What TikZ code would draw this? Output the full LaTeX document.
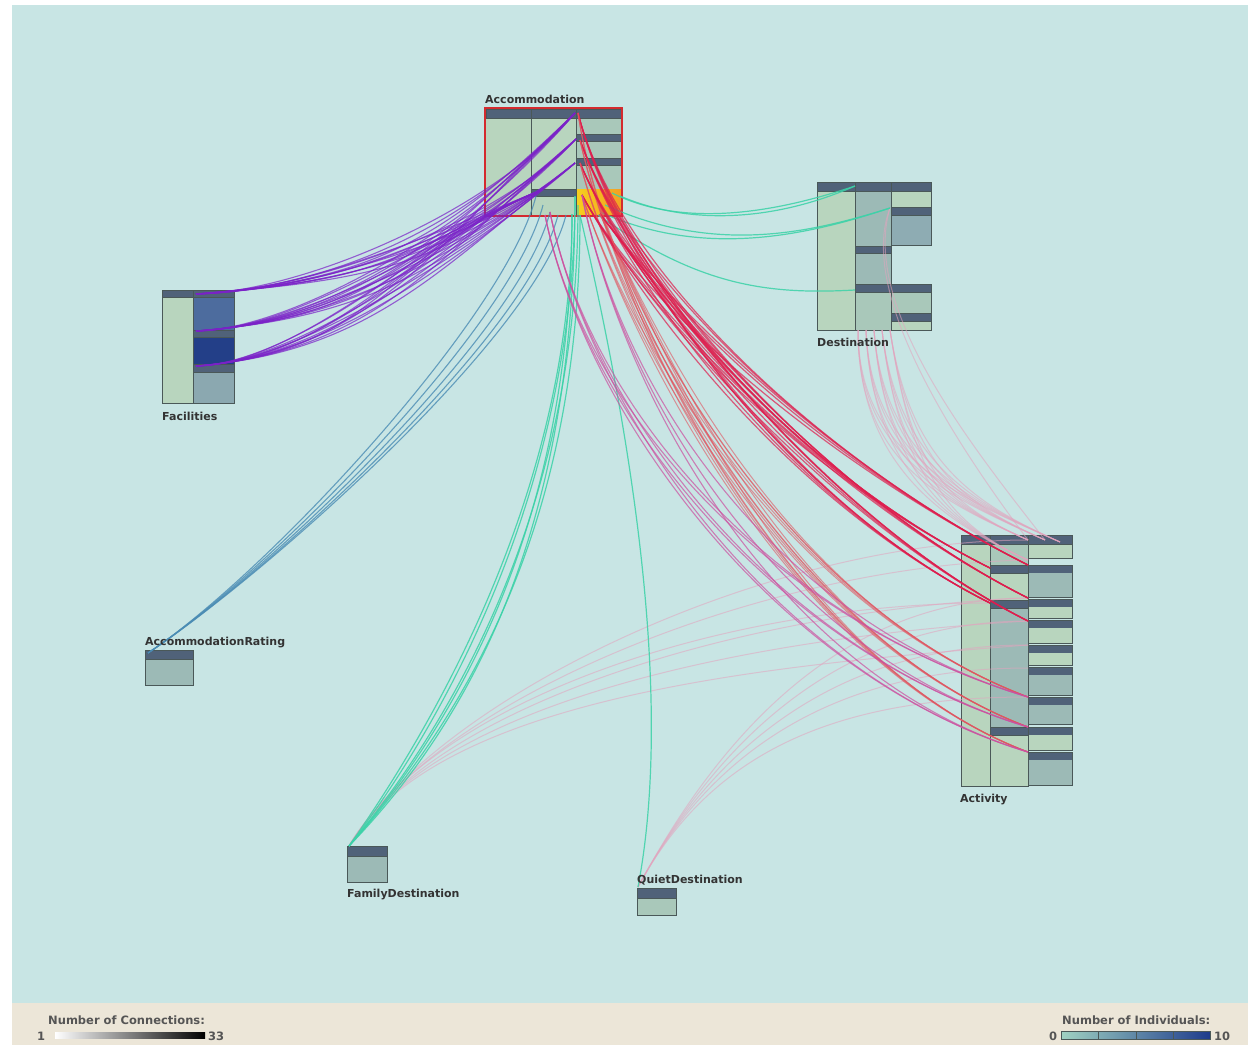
\documentclass[tikz,border=0pt]{standalone}
\usepackage{fontspec}
\setmainfont{DejaVu Sans}
\definecolor{bgc}{HTML}{C8E5E4}
\definecolor{barc}{HTML}{ECE6D8}
\definecolor{lg}{HTML}{B8D5BE}
\definecolor{lg2}{HTML}{A9C8BA}
\definecolor{tg}{HTML}{9CBAB6}
\definecolor{dt}{HTML}{8EACB3}
\definecolor{hdrc}{HTML}{506279}
\definecolor{linec}{HTML}{4A5858}
\definecolor{accred}{HTML}{D42A2E}
\definecolor{fb1}{HTML}{4D6C9E}
\definecolor{fb2}{HTML}{233F88}
\definecolor{fb3}{HTML}{8BA8B0}
\definecolor{yel}{HTML}{F6CF1E}
\definecolor{ora}{HTML}{F2A024}
\definecolor{purp}{HTML}{7B22C8}
\definecolor{bluec}{HTML}{4A8CB4}
\definecolor{grn}{HTML}{3CD2A8}
\definecolor{crim}{HTML}{DE1E4E}
\definecolor{pnk}{HTML}{CC50A0}
\definecolor{orr}{HTML}{E05560}
\definecolor{fpk}{HTML}{E2A4BE}
\definecolor{txt}{HTML}{333333}
\definecolor{ltxt}{HTML}{555555}
\definecolor{sca}{HTML}{A0D2C2}
\definecolor{scb}{HTML}{1E3C8C}
\begin{document}
\begin{tikzpicture}[x=1pt,y=-1pt,
  cbox/.style={rectangle,draw=linec,line width=0.8pt,inner sep=0pt,outer sep=0pt},
  hbox/.style={rectangle,draw=none,inner sep=0pt,outer sep=0pt},
  hdr/.style={fill=hdrc,draw=linec,line width=0.5pt},
  cell/.style={draw=linec,line width=0.6pt},
  lbl/.style={font=\bfseries\fontsize{11}{13}\selectfont,text=txt,anchor=base west,inner sep=0pt},
  leg/.style={font=\bfseries\fontsize{11.5}{13}\selectfont,text=ltxt,anchor=base west,inner sep=0pt},
  purpl/.style={draw=purp,line width=1.1pt,opacity=0.7},
  bluel/.style={draw=bluec,line width=1.1pt,opacity=0.8},
  grnl/.style={draw=grn,line width=1.2pt,opacity=0.85},
  criml/.style={draw=crim,line width=1.2pt,opacity=0.7},
  pnkl/.style={draw=pnk,line width=1.1pt,opacity=0.7},
  orrl/.style={draw=orr,line width=1.0pt,opacity=0.6},
  faintl/.style={draw=fpk,line width=1.0pt,opacity=0.55}]
\useasboundingbox (0,0) rectangle (1250,1047);
\fill[white] (0,0) rectangle (1250,1047);
\fill[bgc] (12,5) rectangle (1248,1003);
\fill[barc] (12,1003) rectangle (1248,1045);

% ---------- Accommodation ----------
\fill[lg] (486,109) rectangle (621,215);
\fill[lg2] (576,118) rectangle (621,189);
\fill[hdr] (486,109) rectangle (621,118);
\fill[hdr] (576,134) rectangle (621,141);
\fill[hdr] (576,158) rectangle (621,165);
\fill[hdr] (531,189) rectangle (576,196);
\shade[left color=yel,right color=ora] (576,189) rectangle (621,215);
\draw[cell] (531,109) -- (531,215) (576,109) -- (576,215);
\node[cbox,draw=accred,line width=2pt,minimum width=137pt,minimum height=108pt] (acc) at (553.5,162) {};

% ---------- Destination ----------
\node[hbox,minimum width=114pt,minimum height=148pt] (dest) at (874,256) {};
\fill[lg] (817,182) rectangle (855,330);
\fill[tg] (855,182) rectangle (891,292);
\fill[lg2] (855,292) rectangle (891,330);
\fill[lg] (891,191) rectangle (931,207);
\fill[dt] (891,207) rectangle (931,245);
\fill[lg2] (891,284) rectangle (931,313);
\fill[lg] (891,313) rectangle (931,330);
\fill[hdr] (817,182) rectangle (931,191);
\fill[hdr] (891,207) rectangle (931,215);
\fill[hdr] (855,246) rectangle (891,253);
\fill[hdr] (855,284) rectangle (931,292);
\fill[hdr] (891,313) rectangle (931,321);
\draw[cell] (855,182) -- (855,330) (891,182) -- (891,330);
\draw[linec,line width=0.8pt] (817,182) -- (931,182) -- (931,245) -- (891,245) -- (891,284) -- (931,284) -- (931,330) -- (817,330) -- cycle;

% ---------- Facilities ----------
\fill[lg] (162,290) rectangle (193,403);
\fill[fb1] (193,297) rectangle (234,330);
\fill[fb2] (193,337) rectangle (234,364);
\fill[fb3] (193,372) rectangle (234,403);
\fill[hdr] (162,290) rectangle (234,297);
\fill[hdr] (193,330) rectangle (234,337);
\fill[hdr] (193,364) rectangle (234,372);
\draw[cell] (193,290) -- (193,403);
\node[cbox,minimum width=72pt,minimum height=113pt] (fac) at (198,346.5) {};

% ---------- Activity ----------
\node[hbox,minimum width=111pt,minimum height=251pt] (act) at (1016.5,660.5) {};
\fill[lg] (961,535) rectangle (990,786);
\fill[lg2] (990,544) rectangle (1028,565);
\fill[lg] (990,573) rectangle (1028,600);
\fill[tg] (990,608) rectangle (1028,727);
\fill[lg] (990,735) rectangle (1028,786);
\fill[hdr] (990,565) rectangle (1028,573);
\fill[hdr] (990,600) rectangle (1028,608);
\fill[hdr] (990,727) rectangle (1028,735);
\fill[lg] (1028,544) rectangle (1072,558);
\draw[cell] (1028,535) rectangle (1072,558);
\foreach \t/\b/\c in {565/597/tg,599/618/lg,620/643/lg,645/665/lg,667/695/tg,697/724/tg,727/750/lg,752/785/tg}{
  \fill[\c] (1028,\t) rectangle (1072,\b);
  \fill[hdrc] (1028,\t) rectangle (1072,{\t+8});
  \draw[cell] (1028,\t) rectangle (1072,\b);
}
\fill[hdr] (961,535) rectangle (1072,544);
\draw[cell] (990,535) -- (990,786);
\draw[linec,line width=0.8pt] (961,535) rectangle (1028,786);
\draw[linec,line width=0.8pt] (1028,535) rectangle (1072,558);

% ---------- small classes ----------
\fill[tg] (145,650) rectangle (193,685);
\fill[hdr] (145,650) rectangle (193,659);
\node[cbox,minimum width=48pt,minimum height=35pt] (rat) at (169,667.5) {};
\fill[tg] (347,846) rectangle (387,882);
\fill[hdr] (347,846) rectangle (387,856);
\node[cbox,minimum width=40pt,minimum height=36pt] (fam) at (367,864) {};
\fill[lg2] (637,888) rectangle (676,915);
\fill[hdr] (637,888) rectangle (676,898);
\node[cbox,minimum width=39pt,minimum height=27pt] (qui) at (656.5,901.5) {};

% ---------- ports ----------
\coordinate (pa1) at (575,113);
\coordinate (pa2) at (576,139);
\coordinate (pa3) at (575,163);
\coordinate (pa4) at (534,193);
\coordinate (pf1) at (196,294);
\coordinate (pf2) at (196,331);
\coordinate (pf3) at (196,366);
\coordinate (pb1) at (536,196);
\coordinate (pb2) at (543,205);
\coordinate (pb3) at (550,212);
\coordinate (pb4) at (558,215);
\coordinate (pb5) at (566,215);
\coordinate (prt) at (148,653);
\coordinate (pg1) at (575,196);
\coordinate (pg2) at (578,205);
\coordinate (pg3) at (572,214);
\coordinate (pg4) at (580,215);
\coordinate (pfd) at (349,846);
\coordinate (pqd) at (638,887);
\coordinate (pd1) at (855,186);
\coordinate (pd2) at (890,208);
\coordinate (pd3) at (855,290);
\coordinate (pr1) at (578,113);
\coordinate (pr2) at (580,140);
\coordinate (pr3) at (580,163);
\coordinate (pr4) at (582,195);
\coordinate (pr5) at (600,214);
\coordinate (pr6) at (545,215);
\coordinate (ta1) at (1028,565);
\coordinate (ta2) at (1028,598);
\coordinate (ta3) at (1028,621);
\coordinate (ta4) at (1028,697);
\coordinate (ta5) at (1028,727);
\coordinate (ta6) at (1028,752);
\coordinate (ta7) at (990,568);
\coordinate (ta8) at (990,603);
\coordinate (tt1) at (1028,540);
\coordinate (tt2) at (1045,540);
\coordinate (tt3) at (1060,542);
\coordinate (tt4) at (1028,560);
\coordinate (tq1) at (1028,645);
\coordinate (tq2) at (1028,668);

% ---------- faint pink connectors ----------
\foreach \s/\dx in {858/0,866/5,874/10,882/15,890/20}{
  \coordinate (ds) at (\s,330);
  \foreach \t in {tt1,tt2,tt3,tt4}{
    \draw[faintl] (ds) .. controls +(\dx,130) and +(-90,-40) .. (\t);
  }
}
\draw[faintl] (pd2) .. controls +(-35,90) and +(-60,-80) .. (tt1);
\draw[faintl] (pd2) .. controls +(-30,100) and +(-70,-90) .. (tt2);
\foreach \t/\dy in {tt1/0,tt4/5,ta2/10,ta3/15,tq1/20,ta8/0}{
  \draw[faintl] (pfd) .. controls +(90,-150) and +(-260,\dy) .. (\t);
}
\foreach \t in {ta2,ta3,tq1,tq2,ta4}{
  \draw[faintl] (pqd) .. controls +(70,-130) and +(-200,0) .. (\t);
}

% ---------- purple ----------
\foreach \a/\dx/\dy in {pa1/-85/100,pa2/-85/90,pa3/-85/75,pa4/-110/45}{
  \foreach \f in {pf1,pf2,pf3}{
    \foreach \k in {0,1,2}{
      \draw[purpl] (\a) .. controls +({\dx-25*\k},{\dy+15*\k}) and +({105+35*\k},{-2-6*\k}) .. (\f);
    }
  }
}

% ---------- blue ----------
\foreach \b in {pb1,pb2,pb3,pb4,pb5}{
  \draw[bluel] (\b) .. controls +(-30,120) and +(120,-80) .. (prt);
}

% ---------- green ----------
\foreach \g/\k in {pg1/0,pg2/10,pg3/-10,pg4/20,pg1/30,pg3/15}{
  \draw[grnl] (\g) .. controls +(0,{265+\k}) and +({115+\k},-150) .. (pfd);
}
\draw[grnl] (pg4) .. controls +(62,265) and +(32,-168) .. (pqd);
\draw[grnl] (612,193) .. controls +(80,40) and +(-60,20) .. (pd1);
\draw[grnl] (605,205) .. controls +(110,50) and +(-80,25) .. (pd2);
\draw[grnl] (600,212) .. controls +(100,45) and +(-90,30) .. (pd2);
\draw[grnl] (598,215) .. controls +(100,70) and +(-90,5) .. (pd3);
\draw[grnl] (620,196) .. controls +(70,30) and +(-80,35) .. (pd1);

% ---------- red / pink ----------
\foreach \a/\dx/\dy in {pr1/40/160,pr2/50/140,pr3/55/130,pr4/60/110,pr5/70/90}{
  \foreach \t in {ta1,ta2,ta3,ta7,ta8}{
    \draw[criml] (\a) .. controls +(\dx,\dy) and +(-200,-100) .. (\t);
  }
  \foreach \t in {ta4,ta5,ta6}{
    \draw[orrl] (\a) .. controls +({\dx-10},{\dy+40}) and +(-240,-90) .. (\t);
  }
}
\foreach \a in {pr4,pr6,pb3}{
  \foreach \t in {ta4,ta5,ta6}{
    \draw[pnkl] (\a) .. controls +(40,200) and +(-250,-75) .. (\t);
  }
}

% ---------- labels ----------
\node[lbl] (acc-l) at (485,103) {Accommodation};
\node[lbl] (dest-l) at (817,346) {Destination};
\node[lbl] (fac-l) at (162,420) {Facilities};
\node[lbl] (rat-l) at (145,645) {AccommodationRating};
\node[lbl] (fam-l) at (347,897) {FamilyDestination};
\node[lbl] (qui-l) at (637,883) {QuietDestination};
\node[lbl] (act-l) at (960,802) {Activity};

% ---------- legends ----------
\node[leg] (lc) at (48,1024) {Number of Connections:};
\node[leg] (lc1) at (37,1040) {1};
\shade[left color=white,right color=black] (55,1032) rectangle (205,1038);
\node[hbox,minimum width=150pt,minimum height=6pt] (lcbar) at (130,1035) {};
\node[leg] (lc2) at (208,1040) {33};
\node[leg] (li) at (1062,1024) {Number of Individuals:};
\node[leg] (li0) at (1049,1040) {0};
\shade[left color=sca,right color=scb] (1061,1031) rectangle (1210,1039);
\draw[linec,line width=0.5pt] (1061,1031) rectangle (1210,1039);
\foreach \x in {1098,1136,1173}{\draw[linec,line width=0.6pt] (\x,1031) -- (\x,1039);}
\node[hbox,minimum width=149pt,minimum height=8pt] (libar) at (1135.5,1035) {};
\node[leg] (li1) at (1214,1040) {10};
\end{tikzpicture}
\end{document}
